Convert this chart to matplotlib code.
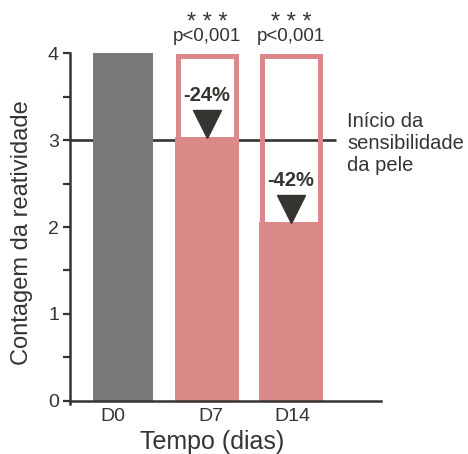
import matplotlib
matplotlib.use("Agg")
import matplotlib.pyplot as plt

plt.rcParams['font.family'] = ['Liberation Sans', 'DejaVu Sans']

dias = ['D0', 'D7', 'D14']
contagem = [4, 3.04, 2.06]
reducao = ['', '-24%', '-42%']
estrelas = ['', '* * *', '* * *']
pvalor = ['', 'p<0,001', 'p<0,001']
limiar = 3

cinza = '#7a7a7a'
rosa = '#da8888'
escuro = '#363430'

fig = plt.figure(figsize=(4.68, 4.54), dpi=100)
ax = fig.add_axes([0.1496, 0.1174, 0.6645, 0.7652])

x = [0, 1, 2]

# linha do limiar (atrás das barras)
ax.hlines(limiar, -0.631, 2.54, color=escuro, lw=1.9, zorder=1)

# D0
ax.bar(x[0], contagem[0], width=0.71, color=cinza, zorder=2)

# D7 / D14: contorno até 4 e preenchimento até o valor
for i in [1, 2]:
    ax.bar(x[i], contagem[i], width=0.76, color=rosa, zorder=2)
    ax.bar(x[i], 4 - 0.03, width=0.70, facecolor='none', edgecolor=rosa,
           linewidth=3.6, zorder=2)
    ax.text(x[i], contagem[i] + 0.47, reducao[i], ha='center', va='center',
            fontsize=14.5, fontweight='bold', color=escuro)
    ax.plot(x[i], contagem[i] + 0.15, marker='v', markersize=20,
            color=escuro, zorder=3, clip_on=False)
    ax.text(x[i], 4.19, pvalor[i], ha='center', va='center', fontsize=13.5,
            color=escuro)
    ax.text(x[i], 4.28, estrelas[i], ha='center', va='baseline', fontsize=17,
            color=escuro)

ax.text(2.67, 2.96, 'Início da\nsensibilidade\nda pele', ha='left', va='center',
        fontsize=14.5, color=escuro, linespacing=1.2)

ax.set_xlim(-0.631, 3.071)
ax.set_ylim(0, 4)
ax.set_yticks([0, 1, 2, 3, 4])
ax.set_yticks([0.5, 1.5, 2.5, 3.5], minor=True)
ax.set_xticks([-0.12, 1.04, 2.02])
ax.set_xticklabels(dias)

for s in ['top', 'right']:
    ax.spines[s].set_visible(False)
for s in ['left', 'bottom']:
    ax.spines[s].set_color(escuro)
    ax.spines[s].set_linewidth(1.8)
ax.spines['left'].set_bounds(-0.04, 4)

ax.tick_params(axis='y', which='both', length=5, width=1.6, color=escuro,
               labelsize=14, labelcolor=escuro, pad=3)
ax.tick_params(axis='x', length=0, labelsize=14, labelcolor=escuro, pad=5)

ax.set_xlabel('Tempo (dias)', fontsize=18, color=escuro)
ax.xaxis.set_label_coords(0.457, -0.085)
ax.set_ylabel('Contagem da reatividade', fontsize=17, color=escuro)
ax.yaxis.set_label_coords(-0.12, 0.483)

fig.savefig('out.png', dpi=100)
